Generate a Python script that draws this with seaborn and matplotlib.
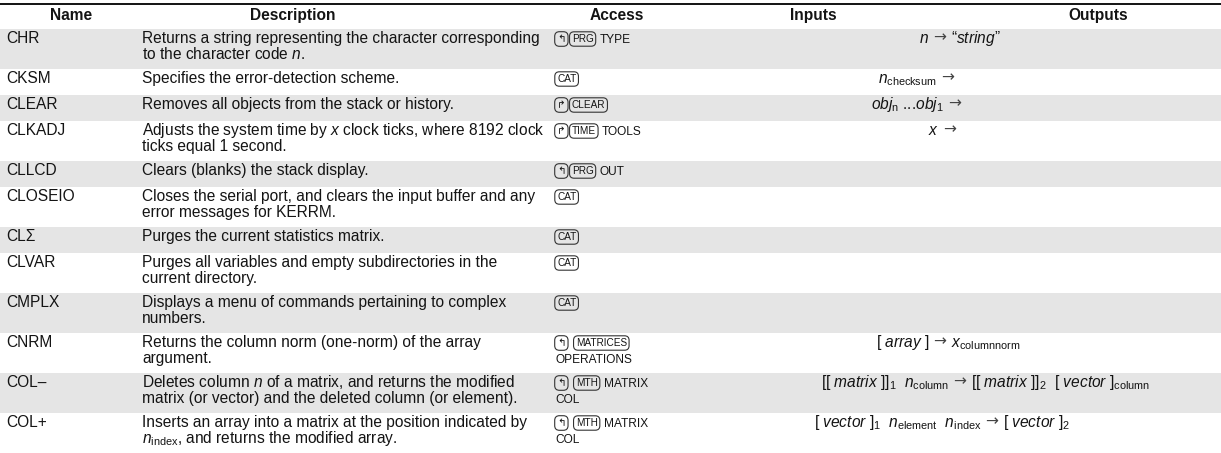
import matplotlib
matplotlib.use("Agg")
import matplotlib.pyplot as plt
import seaborn as sns

sns.set_theme(style="white")
plt.rcParams['font.family'] = ['Liberation Sans', 'DejaVu Sans']
plt.rcParams['mathtext.fontset'] = 'custom'
plt.rcParams['mathtext.rm'] = 'Liberation Sans'
plt.rcParams['mathtext.it'] = 'Liberation Sans:italic'
plt.rcParams['mathtext.bf'] = 'Liberation Sans:bold'

# table content
headers = ["Name", "Description", "Access", "Inputs", "Outputs"]

names = ["CHR", "CKSM", "CLEAR", "CLKADJ", "CLLCD", "CLOSEIO", "CLΣ",
         "CLVAR", "CMPLX", "CNRM", "COL–", "COL+"]

descriptions = [
    ["Returns a string representing the character corresponding",
     r"to the character code $n$."],
    ["Specifies the error-detection scheme."],
    ["Removes all objects from the stack or history."],
    [r"Adjusts the system time by $x$ clock ticks, where 8192 clock",
     "ticks equal 1 second."],
    ["Clears (blanks) the stack display."],
    ["Closes the serial port, and clears the input buffer and any",
     "error messages for KERRM."],
    ["Purges the current statistics matrix."],
    ["Purges all variables and empty subdirectories in the",
     "current directory."],
    ["Displays a menu of commands pertaining to complex",
     "numbers."],
    ["Returns the column norm (one-norm) of the array",
     "argument."],
    [r"Deletes column $n$ of a matrix, and returns the modified",
     "matrix (or vector) and the deleted column (or element)."],
    ["Inserts an array into a matrix at the position indicated by",
     r"$n_{\rm index}$, and returns the modified array."],
]

# calculator keys (L = left shift, R = right shift), menu label, second line
access_keys = [["L", "PRG"], ["CAT"], ["R", "CLEAR"], ["R", "TIME"],
               ["L", "PRG"], ["CAT"], ["CAT"], ["CAT"], ["CAT"],
               ["L", "MATRICES"], ["L", "MTH"], ["L", "MTH"]]
access_menu = ["TYPE", "", "", "TOOLS", "OUT", "", "", "", "", "", "MATRIX", "MATRIX"]
access_line2 = ["", "", "", "", "", "", "", "", "", "OPERATIONS", "COL", "COL"]

inputs = [r"$n$", r"$n_{\rm checksum}$", r"$obj_{\rm n}$ ...$obj_{1}$", r"$x$",
          None, None, None, None, None,
          r"[ $array$ ]",
          r"[[ $matrix$ $]]_{1}$  $n_{\rm column}$",
          r"[ $vector$ $]_{1}$  $n_{\rm element}$  $n_{\rm index}$"]
outputs = [r"“$string$”", "", "", "", None, None, None, None, None,
           r"$x_{\rm columnnorm}$",
           r"[[ $matrix$ $]]_{2}$  [ $vector$ $]_{\rm column}$",
           r"[ $vector$ $]_{2}$"]

# layout
W, H = 1221, 453
col_left = [6, 142, 555]
head_x = [71, 293, 617, 813, 1098]
arrow_x = [940, 948, 955, 950, None, None, None, None, None, 940, 960, 992]
row_h = {1: 26, 2: 40}
ink = "#141414"
band = "#e5e5e5"
fs = 11.2
fs_small = 8.6
fs_key = 7.2

fig = plt.figure(figsize=(W / 100, H / 100), dpi=100)
ax = fig.add_axes([0, 0, 1, 1])
ax.set_xlim(0, W)
ax.set_ylim(H, 0)
ax.axis("off")

ax.hlines(4, 0, W, color="black", lw=1.3)
for hx, h in zip(head_x, headers):
    ax.text(hx, 20, h, ha="center", va="baseline", fontsize=fs,
            fontweight="bold", color=ink)

key_box = dict(boxstyle="round,pad=0.22,rounding_size=0.45", fc="none",
               ec="#333333", lw=0.8)


def chain(prev, txt, gap, y, **kw):
    return ax.annotate(txt, xy=(1, y), xycoords=(prev, "data"),
                       xytext=(gap, 0), textcoords="offset pixels",
                       va="baseline", ha="left", color=ink, **kw)


top = 29
for i, name in enumerate(names):
    nl = max(len(descriptions[i]), 2 if access_line2[i] else 1)
    h = row_h[nl]
    if i % 2 == 0:
        ax.axhspan(top, top + h, color=band, lw=0, zorder=0)
    base = top + 14
    ax.text(col_left[0], base, name, va="baseline", fontsize=fs, color=ink)
    for k, line in enumerate(descriptions[i]):
        ax.text(col_left[1], base + 16 * k, line, va="baseline",
                fontsize=fs, color=ink)

    # access column
    prev = None
    for key in access_keys[i]:
        if key in ("L", "R"):
            glyph = "↰" if key == "L" else "↱"
            t = ax.text(col_left[2] + 2, base - 1, glyph, va="baseline",
                        fontsize=fs_key + 0.3, color=ink, bbox=key_box,
                        family=["DejaVu Sans"])
        else:
            kw = dict(fontsize=fs_key, bbox=key_box,
                      family=["Liberation Sans Narrow", "Liberation Sans"])
            if prev is None:
                t = ax.text(col_left[2] + 2, base - 1, key, va="baseline",
                            color=ink, **kw)
            else:
                gap = 10 if key in ("MATRICES", "MTH") else 6
                t = chain(prev, key, gap, base - 1, **kw)
        prev = t
    if access_menu[i]:
        chain(prev, access_menu[i], 6, base, fontsize=fs_small)
    if access_line2[i]:
        ax.text(col_left[2], base + 16, access_line2[i], va="baseline",
                fontsize=fs_small, color=ink)

    # stack diagram
    if arrow_x[i] is not None:
        axx = arrow_x[i]
        ax.text(axx - 11, base, inputs[i], ha="right", va="baseline",
                fontsize=fs, color=ink)
        ax.text(axx, base - 1, "→", ha="center", va="baseline",
                fontsize=fs, color="#444444", family=["DejaVu Sans"])
        if outputs[i]:
            ax.text(axx + 11, base, outputs[i], ha="left", va="baseline",
                    fontsize=fs, color=ink)
    top += h

fig.savefig("out.png", dpi=100)
